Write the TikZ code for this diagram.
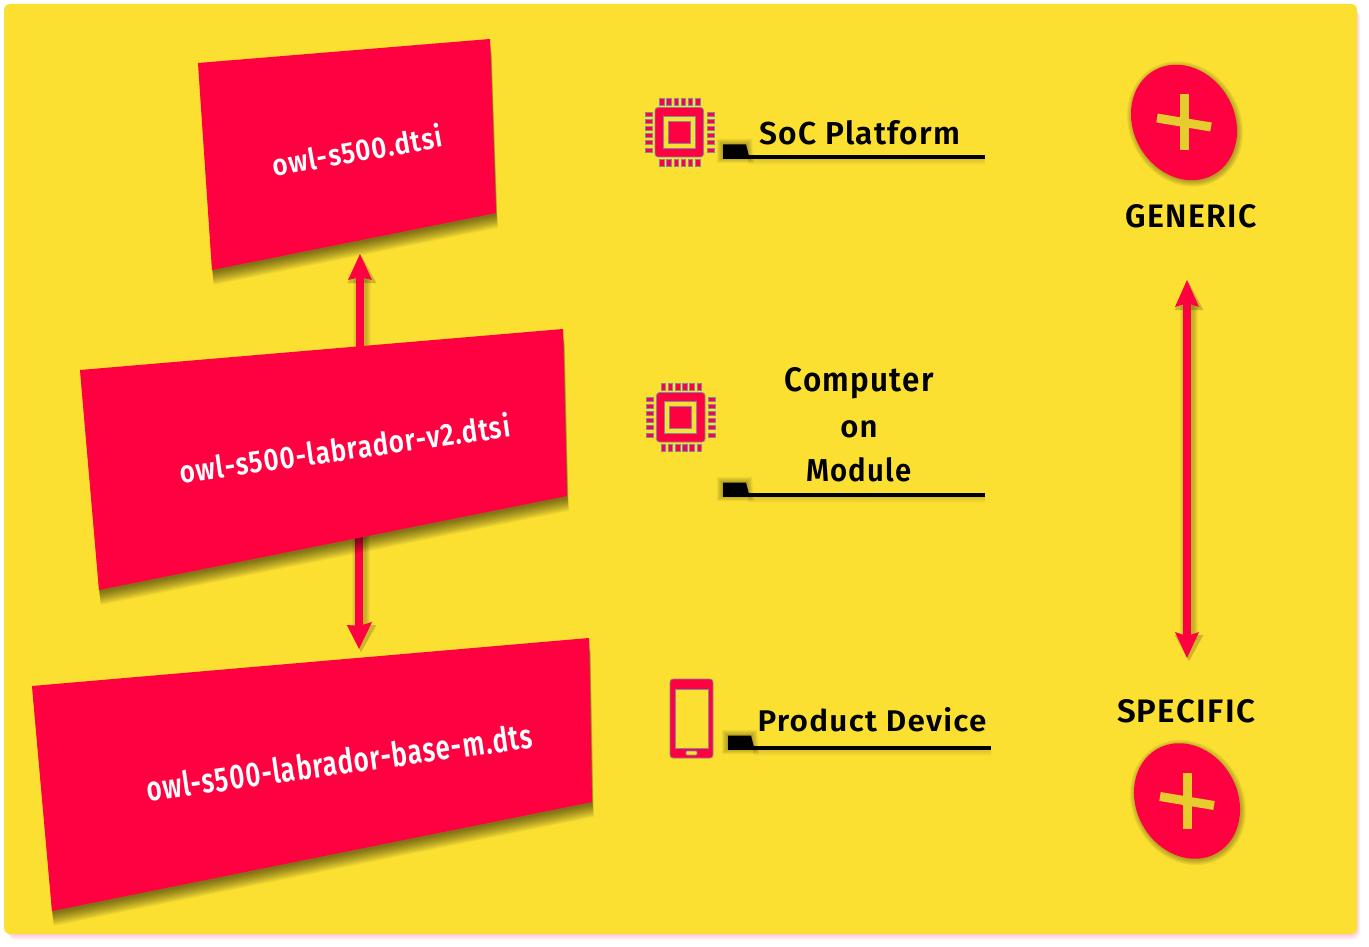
\documentclass[tikz,border=0pt]{standalone}
\usepackage{fontspec}
\setmainfont{Fira Sans}
\newfontfamily\lblfont[LetterSpace=4]{Fira Sans SemiBold}
\definecolor{bg}{HTML}{FBE032}
\definecolor{rd}{HTML}{FF0040}
\definecolor{pl}{HTML}{E6CC2E}
\definecolor{edge}{HTML}{7F8AA0}
\tikzset{
  x=1pt,y=-1pt,
  boxtext/.style={text=white,font=\lblfont\fontsize{29}{32}\selectfont,inner sep=0pt},
  labeltext/.style={text=black,font=\lblfont\fontsize{31}{34}\selectfont,inner sep=0pt,anchor=base},
  shaft/.style={draw=rd,line width=8.5pt},
  rule/.style={draw=black,line width=3.5pt},
  pin/.style={fill=rd,draw=edge,line width=.8pt},
  plusbar/.style={draw=pl,line width=9pt},
}
\newcommand{\shadowpoly}[1]{%
  \foreach \k in {2,3,...,15}{
    \fill[black,opacity=.045,shift={(0.12*\k,\k)}] #1 -- cycle;
  }
  \fill[rd] #1 -- cycle;}
\newcommand{\arrowhead}[4]{\fill[rd] #1 -- #2 -- #3 -- #4 -- cycle;}
\newcommand{\chip}[2]{%
\begin{scope}[shift={(#1,#2)}]
  \foreach \p in {0,7.2,14.4,21.6,28.8,36}{
    \draw[pin] (\p+14.5,-9.5) rectangle ++(4.5,7);
    \draw[pin] (\p+14.5,51.5) rectangle ++(4.5,7);
    \draw[pin] (0,\p+4.5) rectangle ++(7,4);
    \draw[pin] (62,\p+4.5) rectangle ++(7,4);
  }
  \fill[rd,draw=edge,line width=.8pt,rounded corners=3pt] (10,0) rectangle (58.5,49.5);
  \fill[bg,draw=edge,line width=.8pt] (18,9) rectangle (50,41);
  \fill[rd,draw=edge,line width=.8pt] (23,14) rectangle (45,36);
\end{scope}}
\newcommand{\labelrule}[4]{%
  \foreach \k in {1,...,6}{
    \fill[black,opacity=.05] (#1-\k,#2-12-\k) -- (#1+23+\k,#2-12-\k) -- (#1+25+\k,#2+\k) -- (#1-\k,#2+\k) -- cycle;
    \fill[black,opacity=.02] (#1+25,#2+1) rectangle (#4,#2+\k+2);
  }
  \fill[black] (#1,#2-12.5) -- (#1+23,#2-12.5) -- (#1+26,#2-1) -- (#1+26,#2+1.7) -- (#1,#2+1.7) -- cycle;
  \coordinate (#3a) at (#1,#2);
  \coordinate (#3b) at (#4,#2);
  \draw[rule] (#3a) -- (#3b);}
\newcommand{\badge}[3]{%
  \foreach \w in {5,4,3,2,1,0}{\fill[black,opacity=.05,shift={(1,1.5)}] (#1,#2) ellipse[x radius=60+\w,y radius=50.5+\w,rotate=-60];}
  \fill[rd] (#1,#2) ellipse[x radius=60,y radius=50.5,rotate=-60];
  \coordinate (#3h1) at (#1-27,#2-4.5);
  \coordinate (#3h2) at (#1+27,#2+4.5);
  \coordinate (#3v1) at (#1,#2-28);
  \coordinate (#3v2) at (#1,#2+28);
  \draw[plusbar] (#3h1) -- (#3h2);
  \draw[plusbar] (#3v1) -- (#3v2);}
\begin{document}
\begin{tikzpicture}
\useasboundingbox (0,0) rectangle (1369,947);
\fill[white] (0,0) rectangle (1369,947);
% page shadow
\foreach \k in {1,...,7}{
  \fill[rd,opacity=.035,rounded corners=7pt] (8,10) rectangle (1356+.6*\k,933+\k);}
\fill[bg,rounded corners=6pt] (4,4) rectangle (1357,934);

% arrows (behind boxes)
\coordinate (upbase) at (360,352);
\coordinate (uptip) at (360,275);
\coordinate (downbase) at (359,530);
\coordinate (downtip) at (359,628);
\coordinate (rtop) at (1187,300);
\coordinate (rbot) at (1187,640);
\foreach \w in {18,16,14,12,10}{
  \draw[black,opacity=.045,line width=\w pt] (362,350) -- (362,278);
  \draw[black,opacity=.045,line width=\w pt] (361,530) -- (361,626);
  \draw[black,opacity=.045,line width=\w pt] (1189,300) -- (1189,640);
  \fill[black,opacity=.04,shift={(2,3)}] (359,649) -- (372+\w/6,622) -- (347-\w/6,622) -- cycle;
  \fill[black,opacity=.04,shift={(2,3)}] (360,254) -- (372+\w/6,280) -- (348-\w/6,280) -- cycle;
  \fill[black,opacity=.04,shift={(2,3)}] (1187,658) -- (1199+\w/6,632) -- (1175-\w/6,632) -- cycle;
  \fill[black,opacity=.04,shift={(2,3)}] (1187,280) -- (1199+\w/6,307) -- (1175-\w/6,307) -- cycle;
}
\draw[shaft] (upbase) -- (uptip);
\arrowhead{(360,254)}{(372,280)}{(360,277)}{(348,280)}
\draw[shaft] (downbase) -- (downtip);
\arrowhead{(359,649)}{(372,622)}{(359,626)}{(347,625)}
\draw[shaft] (rtop) -- (rbot);
\arrowhead{(1187,280)}{(1199,307)}{(1187,303)}{(1175,307)}
\arrowhead{(1187,658)}{(1199,632)}{(1187,636)}{(1175,632)}

% boxes
\shadowpoly{(198,63) -- (490,39) -- (496,213) -- (212,270)}
\shadowpoly{(80,370) -- (563,329) -- (567,496) -- (99,590)}
\shadowpoly{(32,686) -- (589,638) -- (592,802) -- (52,911)}
\node[boxtext,rotate=10] (t1) at (357,150) {\resizebox{172pt}{24pt}{owl-s500.dtsi}};
\node[boxtext,rotate=8] (t2) at (345,448) {\resizebox{333pt}{25pt}{owl-s500-labrador-v2.dtsi}};
\node[boxtext,rotate=8] (t3) at (339,762) {\resizebox{389pt}{26pt}{owl-s500-labrador-base-m.dts}};

% icons
\chip{645}{107.5}
\chip{646.5}{392.5}
\draw[draw=edge,line width=.8pt,fill=rd,rounded corners=3pt] (670,679) rectangle (713,758);
\draw[fill=bg,draw=edge,line width=.8pt] (675,689) rectangle (708,748);
\draw[fill=bg,draw=edge,line width=.8pt,rounded corners=1pt] (686,751) rectangle (697,755);

% label rules
\labelrule{723}{157}{ra}{985}
\labelrule{723}{495}{rb}{985}
\labelrule{728}{748}{rc}{991}

% labels
\node[labeltext] (soc) at (860,145) {\resizebox{201pt}{24pt}{SoC Platform}};
\node[labeltext] (com1) at (859,391) {\resizebox{149pt}{24pt}{Computer}};
\node[labeltext] (com2) at (859,437) {on};
\node[labeltext] (com3) at (859,481) {\resizebox{105pt}{24pt}{Module}};
\node[labeltext] (prod) at (872,731) {\resizebox{229pt}{24pt}{Product Device}};

% badges
\badge{1184}{122.5}{g}
\badge{1187}{801}{s}
\node[labeltext] (gen) at (1191,228) {\resizebox{131pt}{23pt}{GENERIC}};
\node[labeltext] (spec) at (1186,722) {\resizebox{138pt}{23pt}{SPECIFIC}};
\end{tikzpicture}
\end{document}
